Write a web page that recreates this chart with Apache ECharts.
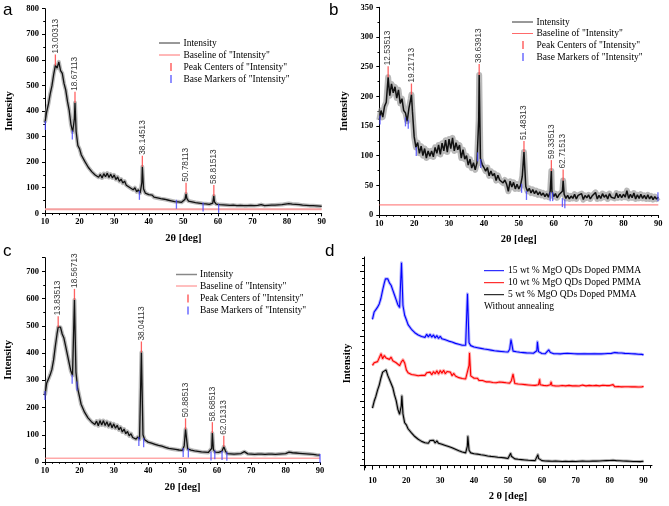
<!DOCTYPE html>
<html><head><meta charset="utf-8">
<script src="https://cdn.jsdelivr.net/npm/echarts@6/dist/echarts.min.js"></script>
<style>html,body{margin:0;padding:0;background:#fff}#c{width:669px;height:506px}</style>
</head><body><div id="c"></div><script>
// ---- sampling grid of the XRD scans (2θ, degrees) ----
const gridStart = 10, gridStep = 0.5;

// ---- panel a : intensity every 0.5° from 10 to 90 ----
const intensityA = [
355,398,428,467,498,542,585,568,592,558,
547,508,482,438,402,348,318,370,320,265,
252,228,224,203,201,180,180,163,170,150,
157,141,152,138,155,143,157,140,153,138,
150,132,142,125,134,118,126,110,117,101,
108,92,100,84,92,79,120,95,79,73,
73,67,71,63,67,60,64,57,60,55,
57,52,55,49,52,46,50,45,48,43,
44,55,58,48,42,45,39,42,37,40,
35,38,33,37,32,35,31,40,45,36,
31,34,29,33,28,32,27,31,28,32,
27,30,26,31,27,30,26,30,27,31,
26,30,27,31,28,34,27,30,27,31,
28,32,28,32,29,33,30,34,31,36,
32,38,33,36,31,35,30,34,29,32,
28,31,27,30,26,30,26,29,25,28,
27];
const peakPosA = [13.00313, 18.67113, 38.14513, 50.78113, 58.81513];
const peakValA = [578, 432, 182, 76, 68];
const basePosA = [10.1, 17.9, 37.3, 48.0, 55.7, 60.2];
const baseValA = [355, 318, 82, 47, 36, 31];
const baselineA = 16;

// ---- panel b ----
const intensityB = [
160,176,165,183,190,228,201,221,206,216,
197,211,188,196,176,172,158,180,195,175,
132,114,122,104,116,100,112,96,108,99,
108,98,114,104,118,102,121,108,126,106,
128,112,130,108,122,110,118,96,110,94,
100,84,94,79,88,76,88,160,95,85,
80,74,80,66,74,66,70,58,67,59,
62,54,59,52,40,57,47,55,44,52,
44,50,65,105,48,40,45,37,43,36,
41,34,39,33,37,31,36,30,40,40,
31,36,29,34,31,40,35,28,33,27,
32,28,35,27,33,30,36,26,33,29,
34,27,32,30,38,27,33,28,36,30,
34,27,36,30,33,28,37,29,35,29,
35,30,41,28,35,29,37,27,34,28,
35,28,33,27,34,27,32,26,31,27,
30];
const peakPosB = [12.53513, 19.21713, 38.63913, 51.48313, 59.33513, 62.71513];
const peakValB = [232, 203, 236, 106, 74, 58];
const basePosB = [10.2, 17.5, 18.3, 20.6, 38.2, 39.1, 50.8, 52.2, 59.0, 59.7, 62.5, 63.2, 89.9];
const baseValB = [165, 162, 158, 112, 103, 92, 50, 38, 36, 36, 26, 24, 36];
const baselineB = 17;

// ---- panel c ----
const intensityC = [
245,290,305,320,340,375,425,470,488,495,
470,455,425,395,365,335,318,595,330,270,
242,212,208,183,183,162,168,148,155,138,
150,133,152,136,152,134,148,130,144,126,
140,124,135,118,128,110,121,104,112,96,
104,90,97,84,92,84,400,100,82,77,
73,68,69,64,65,60,61,57,58,54,
54,56,50,53,48,50,46,48,44,46,
43,60,118,48,42,44,39,41,37,39,
35,37,34,36,33,35,32,50,45,36,
33,35,32,40,55,40,31,32,30,32,
29,31,30,33,31,34,38,33,30,32,
29,31,28,31,29,32,29,31,28,31,
29,32,29,31,28,31,29,32,30,33,
31,34,36,39,34,37,33,36,32,34,
31,33,30,32,29,31,28,29,26,28,
25];
const peakPosC = [13.83513, 18.56713, 38.04113, 50.88513, 58.68513, 62.01313];
const peakValC = [495, 595, 402, 120, 106, 56];
const basePosC = [10.0, 17.9, 19.3, 37.3, 38.7, 50.2, 51.7, 58.3, 59.4, 61.5, 62.9, 90.0];
const baseValC = [255, 315, 290, 86, 82, 46, 44, 33, 38, 35, 32, 24];
const baselineC = 14;

// ---- panel d : stacked scans (vertical offsets) ----
const offset5wt = 0, offset10wt = 460, offset15wt = 660;
const dXTicks = [10, 20, 30, 40, 50, 60, 70, 80, 90];
const dXMinorTicks = [8,12,14,16,18,22,24,26,28,32,34,36,38,42,44,46,48,52,54,56,58,62,64,66,68,72,74,76,78,82,84,86,88,92];
const dYTicks = [0, 200, 400, 600, 800, 1000, 1200];
const dYMinorTicks = [40,80,120,160,240,280,320,360,440,480,520,560,640,680,720,760,840,880,920,960,1040,1080,1120,1160,1240,1280];

const legendLabels = ['Intensity', 'Baseline of "Intensity"', 'Peak Centers of "Intensity"', 'Base Markers of "Intensity"'];
const dLegendLabels = ['15 wt % MgO QDs Doped PMMA', '10 wt % MgO QDs Doped PMMA', '5 wt % MgO QDs Doped PMMA', 'Without annealing'];
const panelLetters = ['a', 'b', 'c', 'd'];

function buildCurve(vals, peakPos, peakVal) {
  const pts = [];
  vals.forEach((v, i) => {
    const x = gridStart + i * gridStep;
    if (!peakPos.some(p => Math.abs(p - x) < 0.12)) pts.push([x, v]);
  });
  peakPos.forEach((p, i) => pts.push([p, peakVal[i]]));
  return pts.sort((a, b) => a[0] - b[0]);
}
const zip = (xs, ys) => xs.map((x, i) => [x, ys[i]]);
const curveA = buildCurve(intensityA, peakPosA, peakValA);
const curveB = buildCurve(intensityB, peakPosB, peakValB);
const curveC = buildCurve(intensityC, peakPosC, peakValC);
const shift = (pts, off) => pts.map(p => [p[0], p[1] + off]);

const SERIF = 'Liberation Serif', SANS = 'Liberation Sans';
const tickLbl = {color: '#000', fontFamily: SERIF, fontWeight: 'bold', fontSize: 8.5};
const nameStyle = {color: '#000', fontFamily: SERIF, fontWeight: 'bold', fontSize: 10.5};
const axLine = {lineStyle: {color: '#000', width: 1}};

function mkX(gi, gap) {
  return {type: 'value', gridIndex: gi, min: 10, max: 90, interval: 10,
    axisLine: axLine, axisTick: {length: 3, lineStyle: {color: '#000'}},
    minorTick: {show: true, splitNumber: 5, length: 1.8, lineStyle: {color: '#000'}},
    splitLine: {show: false}, minorSplitLine: {show: false},
    axisLabel: Object.assign({margin: 4}, tickLbl),
    name: '2θ [deg]', nameLocation: 'middle', nameGap: gap, nameTextStyle: nameStyle};
}
function mkY(gi, max, interval, gap) {
  return {type: 'value', gridIndex: gi, min: 0, max: max, interval: interval,
    axisLine: Object.assign({show: true}, axLine), axisTick: {show: true, length: 3, lineStyle: {color: '#000'}},
    minorTick: {show: true, splitNumber: 2, length: 1.8, lineStyle: {color: '#000'}},
    splitLine: {show: false},
    axisLabel: Object.assign({margin: 6, showMaxLabel: max % interval === 0}, tickLbl),
    name: 'Intensity', nameLocation: 'middle', nameRotate: 90, nameGap: gap, nameTextStyle: nameStyle};
}

const panels = [
  {curve: curveA, pp: peakPosA, pv: peakValA, bp: basePosA, bv: baseValA, base: baselineA, baseColor: '#f5a0a0', baseW: 2, halo: 4, core: 1.3},
  {curve: curveB, pp: peakPosB, pv: peakValB, bp: basePosB, bv: baseValB, base: baselineB, baseColor: '#ff6a6a', baseW: 1, halo: 6, core: 1.5},
  {curve: curveC, pp: peakPosC, pv: peakValC, bp: basePosC, bv: baseValC, base: baselineC, baseColor: '#ff7f7f', baseW: 1, halo: 4, core: 1.3}
];
const series = [];
function addCurve(name, xi, yi, data, halo, core, hw, cw) {
  series.push({type: 'line', xAxisIndex: xi, yAxisIndex: yi, data: data, showSymbol: false, silent: true,
    lineStyle: {color: halo, width: hw, opacity: 0.6, join: 'round'}, z: 2});
  series.push({type: 'line', name: name, xAxisIndex: xi, yAxisIndex: yi, data: data,
    showSymbol: false, lineStyle: {color: core, width: cw}, z: 3});
}
panels.forEach((p, i) => {
  addCurve(legendLabels[0], i, i, p.curve, '#8a8a8a', '#111', p.halo, p.core);
  series.push({type: 'line', name: legendLabels[1], xAxisIndex: i, yAxisIndex: i,
    data: [[10, p.base], [90, p.base]], showSymbol: false, lineStyle: {color: p.baseColor, width: p.baseW}, z: 1});
  series.push({type: 'scatter', name: legendLabels[2], xAxisIndex: i, yAxisIndex: i, data: zip(p.pp, p.pv),
    symbol: 'rect', symbolSize: [1.3, 11], symbolOffset: [0, -5.5], itemStyle: {color: '#ff3b3b'}, z: 5,
    label: {show: true, position: 'top', distance: 1, rotate: 90, align: 'left', verticalAlign: 'middle',
      fontFamily: SANS, fontSize: 8.3, color: '#000', formatter: q => q.value[0].toFixed(5)}});
  series.push({type: 'scatter', name: legendLabels[3], xAxisIndex: i, yAxisIndex: i, data: zip(p.bp, p.bv),
    symbol: 'rect', symbolSize: [1.3, 9], symbolOffset: [0, 3], itemStyle: {color: '#4646ff'}, z: 4});
});
addCurve(dLegendLabels[0], 3, 3, shift(curveC, offset15wt), '#7f7fff', '#0000ff', 3, 1.1);
addCurve(dLegendLabels[1], 3, 3, shift(curveB, offset10wt), '#ff8080', '#ff0000', 3, 1.1);
addCurve(dLegendLabels[2], 3, 3, shift(curveA, offset5wt), '#808080', '#000', 3, 1.1);

const xAxes = [mkX(0, 19), mkX(1, 19), mkX(2, 20),
  {type: 'value', gridIndex: 3, position: 'bottom', min: 7.5, max: 92.5, axisLine: axLine,
    axisTick: {length: 4, customValues: dXTicks, lineStyle: {color: '#000'}},
    axisLabel: Object.assign({margin: 6, customValues: dXTicks}, tickLbl), splitLine: {show: false},
    name: '2 θ [deg]', nameLocation: 'middle', nameGap: 21, nameTextStyle: nameStyle},
  {type: 'value', gridIndex: 3, position: 'bottom', min: 7.5, max: 92.5, axisLine: {show: false},
    axisTick: {length: 2.5, customValues: dXMinorTicks, lineStyle: {color: '#000'}},
    axisLabel: {show: false}, splitLine: {show: false}}
];
const yAxes = [mkY(0, 800, 100, 30), mkY(1, 350, 50, 30), mkY(2, 750, 100, 31),
  {type: 'value', gridIndex: 3, position: 'left', min: -27, max: 1290, axisLine: Object.assign({show: true}, axLine),
    axisTick: {show: true, length: 4, customValues: dYTicks, lineStyle: {color: '#000'}},
    axisLabel: {show: false}, splitLine: {show: false},
    name: 'Intensity', nameLocation: 'middle', nameRotate: 90, nameGap: 11, nameTextStyle: nameStyle},
  {type: 'value', gridIndex: 3, position: 'left', min: -27, max: 1290, axisLine: {show: false},
    axisTick: {show: true, length: 2, customValues: dYMinorTicks, lineStyle: {color: '#000'}},
    axisLabel: {show: false}, splitLine: {show: false}}
];

// ---- legends & panel letters drawn as graphic elements ----
const graphic = [];
function txt(x, y, s, size, font, extra) {
  graphic.push({type: 'text', x: x, y: y, silent: true,
    style: Object.assign({text: s, fontSize: size, fontFamily: font, fill: '#000', verticalAlign: 'middle', align: 'left'}, extra || {})});
}
function ln(x1, y1, x2, y2, color, w) {
  graphic.push({type: 'line', silent: true, shape: {x1: x1, y1: y1, x2: x2, y2: y2}, style: {stroke: color, lineWidth: w}});
}
function fitLegend(x0, x1, xm, xt, ys, introColor, introW, baseColor) {
  ln(x0, ys[0], x1, ys[0], introColor, introW);
  ln(x0, ys[1], x1, ys[1], baseColor, 1);
  ln(xm, ys[2] - 4, xm, ys[2] + 4, '#ff3b3b', 1.2);
  ln(xm, ys[3] - 4, xm, ys[3] + 4, '#4646ff', 1.2);
  legendLabels.forEach((s, i) => txt(xt, ys[i], s, 9.5, SERIF));
}
fitLegend(159, 180, 171, 183.5, [43, 55, 67, 79], '#333', 1, '#ff7070');
fitLegend(512, 533, 523, 536.5, [22, 33.5, 45, 57], '#333', 1, '#ff6a6a');
fitLegend(176, 197, 188, 200, [274.5, 286, 298.5, 310.5], '#888', 1.5, '#ff7f7f');
const dColors = ['#0000ff', '#ff0000', '#000'];
const dRows = [270.7, 282.7, 294.7, 306.7];
dColors.forEach((c, i) => ln(484, dRows[i], 504, dRows[i], c, 1));
dLegendLabels.forEach((s, i) => txt(i < 3 ? 508 : 484, dRows[i], s, 9.5, SERIF));
const letterPos = [[3, 10], [329, 10], [3, 251], [325, 251]];
panelLetters.forEach((s, i) => txt(letterPos[i][0], letterPos[i][1], s, 17, SANS));

const chart = echarts.init(document.getElementById('c'), null, {renderer: 'canvas'});
chart.setOption({
  backgroundColor: '#fff', animation: false,
  grid: [
    {left: 45, top: 8.7, width: 276.7, height: 204.6},
    {left: 379.3, top: 7.3, width: 279, height: 207.7},
    {left: 45, top: 257.7, width: 275, height: 204.3},
    {left: 364, top: 257, width: 288, height: 213}
  ],
  xAxis: xAxes, yAxis: yAxes, series: series, graphic: graphic
});
</script></body></html>
